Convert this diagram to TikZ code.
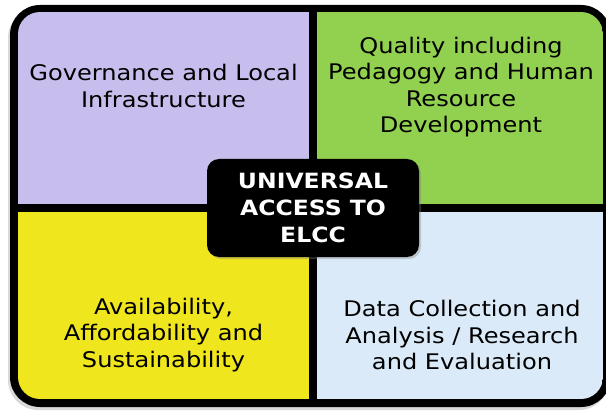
\documentclass[tikz,border=0pt]{standalone}
\usepackage{fontspec}
\setmainfont[FakeStretch=1.12]{DejaVu Sans}
\usetikzlibrary{shadows, positioning}

\definecolor{govlilac}{RGB}{200,190,238}
\definecolor{qualgreen}{RGB}{146,208,80}
\definecolor{availyellow}{RGB}{240,230,30}
\definecolor{datablue}{RGB}{218,234,248}

\tikzset{
  area text/.style={align=center, inner sep=0pt, font=\fontsize{21.5}{26.5}\selectfont, text=black},
  core box/.style={fill=black, rounded corners=12pt, minimum width=212pt, minimum height=98pt,
    align=center, font=\fontsize{21}{27}\selectfont\bfseries, text=white,
    drop shadow={shadow xshift=2pt, shadow yshift=-2pt, opacity=0.35}},
}

\begin{document}
\begin{tikzpicture}[x=1pt, y=-1pt]

\useasboundingbox (0,0) rectangle (606,412);
\clip (0,0) rectangle (606,412);

\fill[black, rounded corners=30pt, drop shadow={shadow xshift=-2pt, shadow yshift=-3pt, opacity=0.3}] (10,5) rectangle (611,407);

\begin{scope}
\clip[rounded corners=22pt] (18,12) rectangle (603,399);
\fill[govlilac] (18,12) rectangle (309,204);
\fill[qualgreen] (317,12) rectangle (603,204);
\fill[availyellow] (18,212) rectangle (309,399);
\fill[datablue] (317,212) rectangle (603,399);
\end{scope}

\node[area text] (Gov) at (163.5,86) {Governance and Local\\Infrastructure};
\node[area text] (Qual) at (461,87) {Quality including\\Pedagogy and Human\\Resource\\Development};
\node[area text] (Avail) at (163.5,335) {Availability,\\Affordability and\\Sustainability};
\node[area text] (Data) at (462,335) {Data Collection and\\Analysis / Research\\and Evaluation};

\node[core box] (Core) at (313,208) {UNIVERSAL\\ACCESS TO\\ELCC};

\end{tikzpicture}
\end{document}
